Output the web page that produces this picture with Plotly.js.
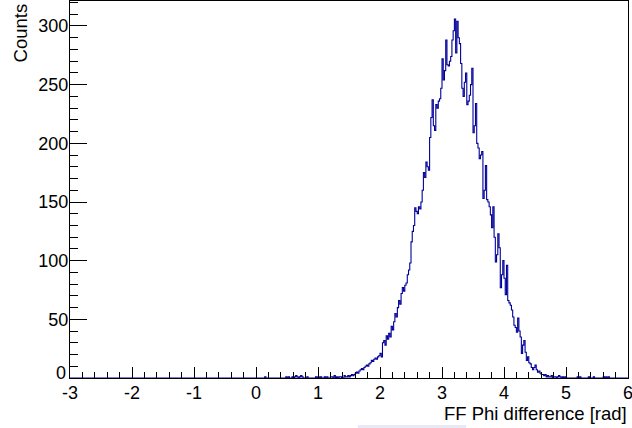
<!DOCTYPE html>
<html>
<head>
<meta charset="utf-8">
<script src="https://cdn.plot.ly/plotly-3.0.1.min.js"></script>
<style>
html,body{margin:0;padding:0;background:#fff;}
#chart{width:632px;height:428px;}
</style>
</head>
<body>
<div id="chart"></div>
<script>
// Histogram definition
const histMin = -3;
const histMax = 6;
const binWidth = 0.02;
const firstBinLow = 0.0;   // counts below start at this edge; all other bins are empty

// Counts per bin (0.02 rad bins) starting at 0.00 rad
const counts = [
  // 0.00 - 0.50
  0,0,0,0,0,0,0,1,0,0, 0,0,0,0,0,0,0,0,0,0, 0,0,0,0,1,
  // 0.50 - 1.00
  0,1,0,0,1,0,1,2,1,0, 1,2,1,0,0,0,1,0,0,0, 0,0,0,1,0,
  // 1.00 - 1.50
  1,0,1,0,0,1,0,1,0,0, 1,1,0,2,0,1,0,1,1,0, 0,2,1,1,2,
  // 1.50 - 2.00
  1,2,3,2,3,4,5,4,6,7, 8,7,9,10,11,10,12,13,15,14, 16,17,16,18,19,
  // 2.00 - 2.50
  21,18,30,32,28,36,33,38,35,44, 41,48,55,52,60,66,63,72,77,74, 79,81,88,92,98,
  // 2.50 - 3.00
  116,125,130,145,142,140,146,144,150,160, 175,171,184,180,177,205,222,237,215,211, 233,230,236,238,247,
  // 3.00 - 3.50
  272,254,262,288,267,266,270,274,288,296, 306,277,304,290,285,268,247,240,252,260, 233,236,241,250,264,
  // 3.50 - 4.00
  209,215,234,200,196,187,190,193,153,160, 181,152,150,146,139,128,146,120,99,105, 123,111,77,88,100,
  // 4.00 - 4.50
  85,71,96,66,64,62,58,52,45,43, 39,51,40,35,21,28,32,22,15,18, 13,12,9,7,9,
  // 4.50 - 5.00
  11,7,5,6,4,3,3,2,3,1, 2,1,1,2,0,1,1,0,1,2, 1,0,1,0,1,
  // 5.00 - 5.50
  0,0,0,0,0,0,0,0,0,1, 0,1,0,0,0,0,0,0,1,0, 0,0,1,0,0,
  // 5.50 - 5.80
  0,0,0,0,0,1,0,1,0,1, 0,0,0,0,0
];

const xTickVals = [-3,-2,-1,0,1,2,3,4,5,6];
const xTickText = ['-3','-2','-1','0','1','2','3','4','5','6'];
const yTickVals = [0,50,100,150,200,250,300];
const yTickText = ['0','50','100','150','200','250','300'];
const xTitle = 'FF Phi difference [rad]';
const yTitle = 'Counts';

// Build step outline across the full histogram range
const nBins = Math.round((histMax - histMin) / binWidth);
const offset = Math.round((firstBinLow - histMin) / binWidth);
const xs = [], ys = [];
let maxCount = 0;
for (let i = 0; i < nBins; i++) {
  const j = i - offset;
  const c = (j >= 0 && j < counts.length) ? counts[j] : 0;
  if (c > maxCount) maxCount = c;
  xs.push(histMin + i * binWidth);
  ys.push(c);
}
xs.push(histMax);
ys.push(ys[ys.length - 1]);

const fam = '"Liberation Sans", Arial, Helvetica, sans-serif';
const tickFont = {family: fam, size: 18, color: '#000'};
const titleFont = {family: fam, size: 18.5, color: '#000'};

// ROOT lifts the zero label of the y axis slightly; draw it as an annotation
const yAxisText = yTickText.map((t, i) => (yTickVals[i] === 0 ? '' : t));

const trace = {
  x: xs, y: ys, type: 'scatter', mode: 'lines',
  line: {shape: 'hv', color: '#000099', width: 1.1},
  hoverinfo: 'skip'
};

const layout = {
  width: 632, height: 428,
  margin: {l: 70, r: 4, t: 1, b: 50, pad: 0},
  paper_bgcolor: '#fff', plot_bgcolor: '#fff',
  showlegend: false,
  font: tickFont,
  xaxis: {
    range: [histMin, histMax], showgrid: false, zeroline: false,
    showline: true, linecolor: '#000', linewidth: 1, mirror: true,
    ticks: 'inside', ticklen: 11, tickwidth: 1, tickcolor: '#000',
    tickmode: 'array', tickvals: xTickVals, ticktext: xTickText,
    minor: {dtick: 0.2, tick0: 0, ticks: 'inside', ticklen: 6, tickwidth: 1, tickcolor: '#000', showgrid: false},
    tickfont: tickFont, ticklabeloverflow: 'allow', ticklabelstandoff: -2, fixedrange: true
  },
  yaxis: {
    range: [0, maxCount * 1.05], showgrid: false, zeroline: false,
    showline: true, linecolor: '#000', linewidth: 1, mirror: true,
    ticks: 'inside', ticklen: 17, tickwidth: 1, tickcolor: '#000',
    tickmode: 'array', tickvals: yTickVals, ticktext: yAxisText,
    minor: {dtick: 10, tick0: 0, ticks: 'inside', ticklen: 8, tickwidth: 1, tickcolor: '#000', showgrid: false},
    tickfont: tickFont, ticklabeloverflow: 'allow', ticklabelstandoff: -3, fixedrange: true
  },
  annotations: [
    {text: yTickText[yTickVals.indexOf(0)], xref: 'paper', yref: 'y', x: 0, y: 0,
     xanchor: 'right', yanchor: 'middle', xshift: -2, yshift: 5, showarrow: false, font: tickFont},
    {text: xTitle, xref: 'paper', yref: 'paper', x: 1.002, y: -0.093,
     xanchor: 'right', yanchor: 'middle', showarrow: false, font: titleFont},
    {text: yTitle, xref: 'paper', yref: 'paper', x: -0.088, y: 1.0,
     xanchor: 'center', yanchor: 'top', textangle: -90, showarrow: false, font: titleFont}
  ],
  shapes: [
    {type: 'rect', xref: 'paper', yref: 'paper', x0: 0.516, x1: 0.710, y0: -0.1326, y1: -0.1245,
     fillcolor: '#e8e8f6', line: {width: 0}, layer: 'below'}
  ]
};

Plotly.newPlot('chart', [trace], layout, {displayModeBar: false, staticPlot: true});
</script>
</body>
</html>
